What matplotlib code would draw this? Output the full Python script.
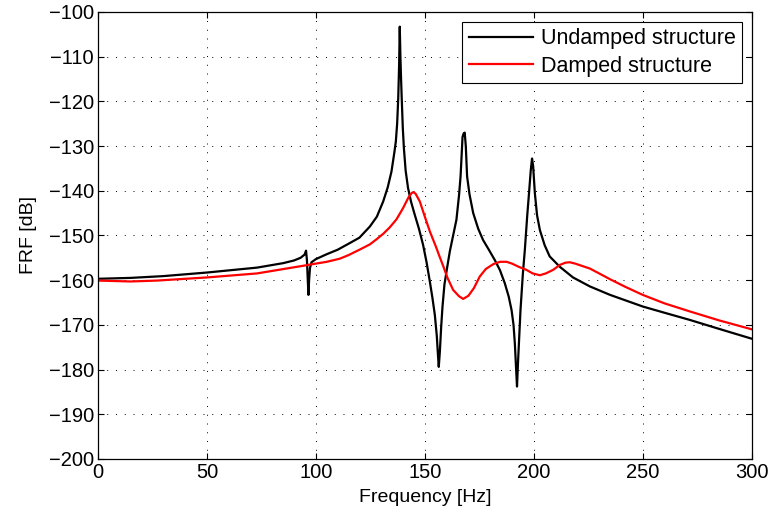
import numpy as np
import matplotlib.pyplot as plt

# undamped structure (black)
f_und = [0, 15, 30, 50, 73, 85, 90, 93, 94.8, 95.5, 95.9, 96.3, 96.6, 96.9, 97.3, 98,
         100, 105, 110, 115.6, 120, 124.8, 128, 130.9, 133, 134.7, 136, 136.7, 137.3,
         137.8, 138.2, 138.5, 138.8, 139.1, 139.4, 139.9, 140.4, 141.2, 142.3, 143.7,
         145.4, 147.3, 149.2, 150.8, 152.3, 153.5, 154.6, 155.5, 156.0, 156.4, 156.9,
         157.5, 158.1, 159, 160.2, 161.5, 163, 164.5, 165.7, 166.4, 167, 167.3, 167.8,
         168.3, 168.8, 169.4, 170.5, 172.2, 174.5, 176.7, 179.5, 182.1, 184.5, 186.7,
         188.5, 189.8, 190.7, 191.3, 191.8, 192.3, 192.8, 193.9, 195, 195.9, 197, 197.8,
         198.6, 199.2, 199.7, 200.5, 201.5, 202.8, 205, 207.3, 211.9, 218, 225.7, 235,
         250, 260, 271.6, 285, 300]
h_und = [-159.7, -159.5, -159.1, -158.3, -157.2, -156.2, -155.6, -155.0, -154.3, -153.4,
         -155.5, -160.0, -163.3, -160.0, -157.3, -156.0,
         -155.3, -154.2, -153.2, -151.7, -150.5, -148.0, -145.8, -142.4, -139.2, -135.7, -131.5, -129.0, -125.0,
         -119.3, -112.0, -103.3, -110.0, -115.0, -119.3, -126.0, -130.5, -135.5, -139.4, -142.5,
         -145.4, -148.5, -152.1, -156.0, -160.3, -164.0, -167.8, -172.5, -176.5, -179.4, -176.0,
         -170.5, -166.0, -161.0, -157.3, -153.5, -150.0, -146.5, -141.0, -136.8, -131.0, -128.0, -127.2,
         -127.0, -130.0, -136.8, -140.8, -145.0, -148.5, -151.0, -153.3, -155.5, -157.8, -160.7,
         -163.7, -166.7, -170.0, -174.1, -179.0, -183.8, -178.0, -166.7, -158.5, -153.2, -145.5, -140.6,
         -135.5, -132.8, -134.5, -140.6, -145.5, -148.8, -152.2, -154.7, -157.0, -159.4, -161.4, -163.3,
         -165.9, -167.3, -168.9, -170.9, -173.1]

# damped structure (red)
f_dmp = [0, 15, 27, 50, 73, 94, 100, 105, 111, 115, 120, 124.8, 128, 131, 133.9, 137, 140,
         142.5, 144, 144.8, 145.8, 147.7, 150, 152.3, 155, 156.9, 158.4, 160.5, 163, 165.7,
         167.6, 170, 172.5, 175.2, 178, 181.5, 184.5, 187.5, 190, 193, 196.6, 199.5, 202.8,
         205.5, 208.9, 211.9, 214.5, 216.5, 219, 222, 225.7, 230, 235, 242, 250, 260, 271.6,
         285, 300]
h_dmp = [-160.1, -160.3, -160.1, -159.4, -158.5, -156.8, -156.3, -155.9, -155.2, -154.4,
         -153.2, -152.0, -150.8, -149.6, -148.2, -146.4, -143.9,
         -141.5, -140.5, -140.3, -140.7, -142.4, -145.8, -149.1, -152.4, -154.9, -156.8, -159.6, -162.2,
         -163.6, -164.2, -163.5, -161.8, -159.2, -157.5, -156.4, -155.9, -155.9, -156.3, -157.0, -157.7,
         -158.5, -158.9, -158.5, -157.7, -156.6, -156.1, -156.0, -156.3, -156.8, -157.4, -158.5, -159.8,
         -161.5, -163.3, -165.2, -167.0, -169.0, -171.0]

plt.rcParams['font.family'] = ['Liberation Sans', 'DejaVu Sans']
plt.rcParams['font.size'] = 13.5

fig = plt.figure(figsize=(7.71, 5.18), dpi=100)
ax = fig.add_axes([0.127, 0.114, 0.848, 0.863])

ax.plot(f_und, h_und, color='black', lw=1.6, label='Undamped structure')
ax.plot(f_dmp, h_dmp, color='red', lw=1.6, label='Damped structure')

ax.set_xlim(0, 300)
ax.set_ylim(-200, -100)
ax.set_xticks(np.arange(0, 301, 50))
ax.set_yticks(np.arange(-200, -99, 10))
ax.tick_params(direction='in', top=True, right=True, length=4, width=0.8, pad=3,
               labelsize=14.5)
ax.grid(True, color='black', linestyle=(0, (1, 8)), linewidth=0.7)
for s in ax.spines.values():
    s.set_linewidth(0.9)

ax.set_xlabel('Frequency [Hz]', labelpad=5, fontsize=14)
ax.set_ylabel('FRF [dB]', labelpad=8, fontsize=14)

leg = ax.legend(loc='upper right', fancybox=False, framealpha=1, edgecolor='black',
                borderaxespad=0.45, handlelength=3.0, handletextpad=0.35,
                labelspacing=0.3, borderpad=0.3, fontsize=15.5)
leg.get_frame().set_linewidth(0.8)

fig.savefig('out.png', dpi=100)
